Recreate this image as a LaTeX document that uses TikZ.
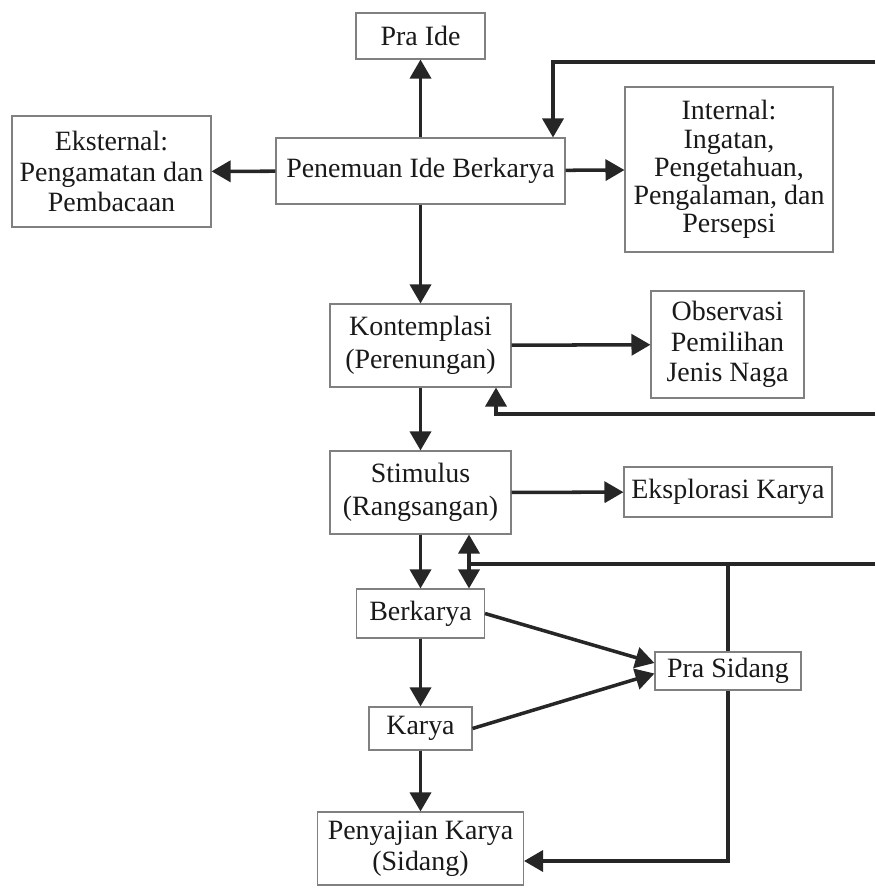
\documentclass[tikz,border=0pt]{standalone}
\usepackage{fontspec}
\setmainfont{Liberation Serif}
\usetikzlibrary{arrows.meta,positioning}

\begin{document}
\begin{tikzpicture}[->, >={Triangle[length=3.8mm,width=4.2mm]}, line width=2pt, color=black!85,
  box/.style={draw=black!50, line width=0.6pt, fill=white, align=center, inner sep=0pt, text=black!90, font=\fontsize{15.9}{17.5}\selectfont}]
\path[use as bounding box] (0,0) rectangle (17.5,-17.76);
\node[box, minimum width=2.58cm, minimum height=0.92cm] (Pra) at (8.41,-0.72) {Pra Ide};
\node[box, minimum width=5.78cm, minimum height=1.32cm] (Ide) at (8.41,-3.42) {Penemuan Ide Berkarya};
\node[box, minimum width=3.98cm, minimum height=2.22cm] (Eks) at (2.23,-3.43) {Eksternal:\\Pengamatan dan\\Pembacaan};
\node[box, minimum width=4.16cm, minimum height=3.30cm, font=\fontsize{15.9}{16}\selectfont] (Int) at (14.58,-3.39) {Internal:\\Ingatan,\\Pengetahuan,\\Pengalaman, dan\\Persepsi};
\node[box, minimum width=3.62cm, minimum height=1.66cm, font=\fontsize{15.9}{18.5}\selectfont] (Kon) at (8.41,-6.91) {Kontemplasi\\(Perenungan)};
\node[box, minimum width=3.06cm, minimum height=2.14cm] (Obs) at (14.55,-6.89) {Observasi\\Pemilihan\\Jenis Naga};
\node[box, minimum width=3.62cm, minimum height=1.66cm, font=\fontsize{15.9}{18.5}\selectfont] (Sti) at (8.41,-9.85) {Stimulus\\(Rangsangan)};
\node[box, minimum width=4.16cm, minimum height=1.00cm] (Eksp) at (14.56,-9.84) {Eksplorasi Karya};
\node[box, minimum width=2.56cm, minimum height=0.98cm] (Ber) at (8.41,-12.27) {Berkarya};
\node[box, minimum width=2.06cm, minimum height=0.86cm] (Kar) at (8.41,-14.57) {Karya};
\node[box, minimum width=2.92cm, minimum height=0.76cm] (PraS) at (14.56,-13.42) {Pra Sidang};
\node[box, minimum width=4.12cm, minimum height=1.46cm] (Saji) at (8.41,-16.97) {Penyajian Karya\\(Sidang)};
\coordinate (R1) at (17.5,-1.24);
\coordinate (R2) at (17.5,-8.28);
\coordinate (R3) at (17.5,-11.28);
\coordinate (T1) at (11.06,-1.24);
\coordinate (K1) at (9.92,-8.28);
\coordinate (J) at (9.38,-11.28);
\path (Ide) edge (Pra);
\path (Ide) edge (Eks);
\path (Ide) edge (Int);
\path (Ide) edge (Kon);
\path (Kon) edge (Obs);
\path (Kon) edge (Sti);
\path (Sti) edge (Eksp);
\path (Sti) edge (Ber);
\path (Ber) edge (Kar);
\path (Kar) edge (Saji);
\path (Ber.east) edge ([yshift=1.6mm]PraS.west);
\path (Kar.east) edge ([yshift=-0.5mm]PraS.west);
\draw (R1) -- (T1) -- (T1 |- Ide.north);
\draw (R2) -- (K1) -- (K1 |- Kon.south);
\draw[-] (R3) -- (J);
\draw[-] (PraS.north) -- (PraS.north |- J);
\draw (J) -- (J |- Sti.south);
\draw (J) -- (J |- Ber.north);
\draw (PraS.south) |- ([yshift=-2.5mm]Saji.east);
\end{tikzpicture}
\end{document}
